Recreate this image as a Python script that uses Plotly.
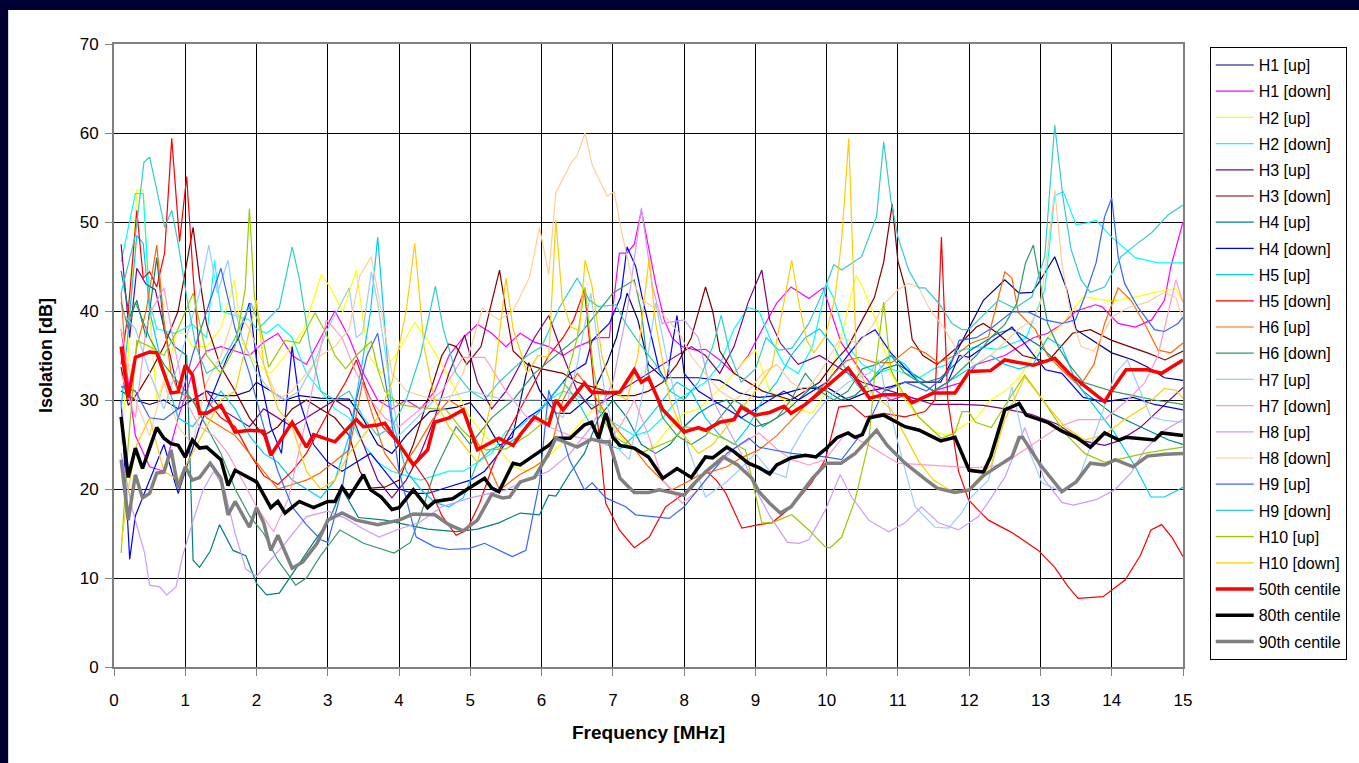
import plotly.graph_objects as go

# (frequency MHz, isolation dB)
H1_UP = [(0.1,31),(0.3,30),(0.5,29.5),(0.7,30),(0.9,29),(1.1,30),(1.3,31),(1.5,30.5),(1.7,30.5),(1.9,31),(2.0,32),(2.2,31),(2.4,30),(2.6,30.5),(2.89,30.2),(3.3,30.1),(3.5,27.8),(3.7,25),(3.9,24),(4.1,26),(4.43,28.7),(4.81,29.2),(5.0,29.7),(5.22,27.5),(5.41,24.9),(5.59,25.8),(5.82,34.2),(5.97,31.1),(6.2,28.5),(6.4,28.5),(6.7,30.5),(6.92,34.2),(7.05,37),(7.2,42),(7.35,39),(7.5,34),(7.7,32.5),(7.9,32.5),(8.2,32.5),(8.5,32.2),(8.77,30.8),(9.05,30.3),(9.3,30.5),(9.66,31.3),(10.03,31.3),(10.3,30),(10.6,31),(10.9,31.5),(11.1,32),(11.4,32),(11.6,32),(11.86,36),(12.2,41.2),(12.5,43.5),(12.7,42),(12.88,42.1),(12.97,43.1),(13.2,46.1),(13.37,42.4),(13.5,37.9),(14.0,35.3),(14.3,34.5),(14.5,33.7),(14.74,32.5),(15.0,32.2)]
H1_DOWN = [(0.1,38),(0.3,26),(0.5,22.5),(0.7,22),(0.9,28),(1.1,33),(1.3,35.5),(1.5,36),(1.7,35.5),(1.9,35),(2.1,36.5),(2.3,37.5),(2.5,35),(2.7,34),(2.9,37),(3.1,40),(3.3,37),(3.5,33),(3.7,30),(3.9,29),(4.1,30),(4.3,29),(4.5,31),(4.7,35),(4.9,37),(5.1,38.5),(5.3,37.5),(5.5,36),(5.7,37.5),(5.9,36.5),(6.1,36),(6.3,35),(6.5,36),(6.8,37),(6.95,37),(7.09,46.5),(7.2,46.5),(7.3,47.5),(7.4,51.3),(7.6,43.1),(7.72,39),(7.83,37),(7.97,36),(8.16,35.6),(8.3,35.7),(8.5,34.5),(8.7,33),(8.9,35),(9.1,38),(9.3,40.9),(9.5,42.7),(9.75,41.4),(9.95,42.6),(10.2,36.5),(10.5,33),(10.7,31),(10.9,30),(11.1,30.5),(11.3,30),(11.5,31),(11.7,31.5),(11.9,32),(12.1,34),(12.3,34.5),(12.5,35),(12.7,36),(12.9,37),(13.1,37.5),(13.3,38.5),(13.5,40),(13.77,40.7),(13.86,40.5),(14.09,38.6),(14.33,38.2),(14.56,39),(14.74,41.2),(14.83,45),(15.0,50)]
H2_UP = [(0.1,25),(0.2,35),(0.32,53.6),(0.41,53.6),(0.5,40),(0.6,30),(0.75,33),(0.87,37.5),(1.0,37.5),(1.1,36),(1.3,36),(1.5,38),(1.69,43.5),(1.8,36.4),(2.0,34),(2.2,33),(2.4,35),(2.66,37.9),(2.91,44.1),(3.03,42.7),(3.21,39.9),(3.4,44.6),(3.56,35.2),(3.75,33),(3.95,35),(4.22,38.7),(4.38,37),(4.6,34),(4.8,31),(5.0,28),(5.2,26),(5.4,24.5),(5.6,22.5),(5.8,22),(6.0,23),(6.2,24.5),(6.4,26),(6.6,28),(6.8,29.5),(7.0,27),(7.2,25),(7.4,24),(7.6,25),(7.8,27),(8.0,28.5),(8.2,29),(8.4,30.5),(8.6,32),(8.8,34),(9.0,35.6),(9.2,31),(9.4,30),(9.6,29),(9.8,28.5),(10.0,31),(10.2,37),(10.41,44.0),(10.5,42.8),(10.7,38.8),(10.9,33),(11.1,30),(11.3,28),(11.5,26.5),(11.7,26),(11.9,27),(12.1,28),(12.3,30),(12.5,31),(12.7,32.5),(12.9,35),(13.1,37),(13.3,38.5),(13.6,41.6),(14.0,41.1),(14.3,41.5),(14.6,42.1),(14.9,42.5),(15.0,41)]
H2_DOWN = [(0.1,45.5),(0.3,53.2),(0.41,53.2),(0.5,41),(0.6,38),(0.85,37.5),(1.1,38.5),(1.3,37),(1.41,45.7),(1.5,40),(1.7,39.5),(1.9,39),(2.0,38),(2.14,37.5),(2.3,38.5),(2.5,37),(2.7,33),(2.9,31),(3.1,29),(3.3,28),(3.5,25),(3.7,23),(3.9,22),(4.1,21.5),(4.3,21),(4.5,21.5),(4.7,22),(4.9,22),(5.1,23),(5.3,24),(5.5,26.5),(5.7,27),(5.9,28.5),(6.1,30),(6.3,31),(6.5,30.5),(6.7,29.5),(6.9,28),(7.1,27),(7.3,26),(7.5,26.5),(7.7,28),(7.9,30),(8.1,31),(8.3,32),(8.5,34),(8.7,38),(8.9,40.4),(9.05,40),(9.2,37),(9.4,34),(9.6,33),(9.8,36),(10.0,43),(10.1,41.4),(10.3,36),(10.5,34),(10.7,33),(10.9,33.5),(11.1,33),(11.3,32.5),(11.5,33.5),(11.7,34),(11.85,35.5),(12.1,36),(12.4,35.7),(12.8,37),(13.06,42.4),(13.2,53),(13.32,53.4),(13.5,49.7),(13.66,49.9),(13.78,50.2),(14.0,48.3),(14.33,46),(14.65,45.4),(15.0,45.4)]
H3_UP = [(0.1,47.5),(0.22,37),(0.32,44.8),(0.45,43),(0.58,42.4),(0.7,38),(0.9,31),(1.1,30),(1.3,31),(1.5,29),(1.7,28),(1.9,27),(2.1,29),(2.3,28),(2.5,27),(2.7,28),(2.9,29),(3.1,30),(3.3,29),(3.5,25),(3.7,21),(3.9,19),(4.1,21),(4.3,24),(4.5,28),(4.7,33),(4.92,37.3),(5.1,32),(5.3,29),(5.5,31),(5.7,34),(5.9,37),(6.1,39.5),(6.3,35),(6.5,31),(6.7,29),(6.9,30),(7.1,31),(7.3,32),(7.5,33),(7.7,34),(7.9,35),(8.1,36),(8.3,35),(8.5,33),(8.7,36),(8.9,41),(9.09,44.6),(9.2,39),(9.35,36.4),(9.6,34),(9.9,35),(10.1,34),(10.3,33),(10.5,32),(10.7,31.5),(10.9,31),(11.1,30.5),(11.3,30),(11.5,29.5),(11.9,29.5),(12.2,29.4),(12.5,29),(12.87,28.4),(13.23,27.3),(13.6,25.4),(13.9,24.9),(14.1,25.4),(14.4,26.9),(14.7,29.1),(15.0,31.4)]
H3_DOWN = [(0.1,33.7),(0.2,29.4),(0.35,31),(0.5,33),(0.7,36),(0.9,40),(1.11,49.4),(1.2,43.7),(1.3,38.5),(1.5,33.7),(1.7,31),(1.9,28),(2.1,26),(2.3,27),(2.5,29),(2.7,30),(2.9,29),(3.1,28),(3.3,26),(3.45,22),(3.6,20.1),(3.8,20.2),(4.0,21),(4.2,25),(4.4,30),(4.6,35),(4.7,36.3),(4.8,36),(4.95,34),(5.15,36),(5.3,41),(5.41,44.6),(5.5,40),(5.6,35.5),(5.8,34),(6.0,33.5),(6.3,33),(6.5,32),(6.7,31.5),(6.9,31),(7.1,30.5),(7.3,30.5),(7.5,31),(7.7,32),(7.9,34),(8.1,37),(8.3,42.7),(8.4,40),(8.5,35.5),(8.7,33),(8.9,32),(9.1,31),(9.3,30.5),(9.5,30),(9.7,31),(9.9,32),(10.1,34.2),(10.3,36),(10.5,39),(10.67,41.5),(10.8,45.5),(10.92,52),(11.0,45.6),(11.1,42.7),(11.2,36.8),(11.35,35),(11.55,34),(11.8,35.7),(12.1,38.2),(12.2,38.6),(12.4,37.5),(12.75,35),(13.1,34.3),(13.45,37.5),(13.7,37.9),(14.0,36.7),(14.5,35.3),(14.75,34.5),(15.0,35.5)]
H4_UP = [(0.1,44.5),(0.22,39.3),(0.32,41.2),(0.45,37),(0.6,46),(0.7,38),(0.85,36),(1.02,35),(1.11,12),(1.2,11.2),(1.35,13),(1.48,16),(1.67,13.1),(1.85,12.5),(2.0,9.4),(2.14,8.1),(2.32,8.3),(2.6,11.7),(2.8,14),(3.02,16.5),(3.2,20),(3.43,16.8),(3.8,16.5),(4.1,16),(4.4,15.5),(4.8,15.2),(5.1,15.5),(5.4,16.2),(5.7,17.3),(5.97,17.1),(6.1,19.3),(6.2,19.2),(6.4,21.8),(6.6,24),(6.8,28),(7.0,30),(7.2,28),(7.4,25),(7.6,24),(7.8,25),(8.0,27),(8.2,28.5),(8.4,29.5),(8.6,30),(8.8,28),(9.0,27),(9.2,27.5),(9.4,28.5),(9.6,30),(9.8,31.5),(10.0,31),(10.2,30),(10.4,30.5),(10.6,32),(10.8,33.5),(11.0,34),(11.2,33),(11.4,32),(11.6,32.5),(11.8,34),(12.0,35.5),(12.2,36.5),(12.4,37.5),(12.6,38),(12.8,37),(13.0,36),(13.2,34.5),(13.4,33),(13.6,31),(14.0,28.5),(14.4,27),(14.8,25.5),(15.0,25)]
H4_DOWN = [(0.1,30),(0.22,12.1),(0.3,17),(0.42,19.5),(0.55,22),(0.7,25),(0.9,19.5),(1.0,22),(1.2,27),(1.4,31),(1.6,35),(1.75,37),(1.9,40.9),(2.0,34.5),(2.2,27),(2.35,24),(2.5,36),(2.6,30),(2.8,25),(3.0,23),(3.2,22),(3.4,23),(3.6,24),(3.8,22),(4.0,20),(4.2,19.5),(4.4,19.5),(4.6,20),(4.8,20.5),(5.0,21),(5.2,22),(5.4,24),(5.6,26.5),(5.8,28),(6.0,29),(6.2,31),(6.4,33),(6.62,34.1),(6.71,36.7),(6.95,38.6),(7.11,41.6),(7.2,47.2),(7.32,45),(7.41,41.6),(7.55,36.7),(7.65,33.4),(7.75,32),(7.9,39.5),(8.0,33),(8.2,31),(8.4,30),(8.6,29),(8.8,28),(9.0,29),(9.2,30),(9.4,31),(9.6,30),(9.8,31),(10.0,32),(10.2,34),(10.49,37),(10.68,37.9),(10.9,35.3),(11.1,33.6),(11.3,32),(11.5,31),(11.7,32),(11.86,35),(12.0,34.8),(12.3,36.5),(12.6,38.2),(12.9,35.1),(13.07,33.4),(13.3,33),(13.6,30.3),(13.9,29.8),(14.3,30.3),(14.6,29.5),(15.0,28.9)]
H5_UP = [(0.1,29),(0.32,48.5),(0.41,47.6),(0.5,40),(0.7,33),(0.9,28),(1.1,27),(1.3,29),(1.5,31),(1.7,29),(1.9,26),(2.1,24),(2.3,23),(2.5,21),(2.7,20),(2.9,19),(3.1,21),(3.3,26),(3.5,35),(3.6,40),(3.7,48.3),(3.8,38),(3.9,28),(4.1,22),(4.3,20),(4.5,18.5),(4.7,18),(4.9,19),(5.1,23),(5.3,24.5),(5.5,25),(5.7,26),(5.9,28),(6.1,30),(6.3,32),(6.5,30),(6.7,27),(6.9,25),(7.1,24.5),(7.3,26),(7.5,28),(7.7,30),(7.9,32),(8.1,31),(8.3,28),(8.5,26),(8.7,25),(8.9,27),(9.1,30),(9.3,32),(9.5,35),(9.7,37),(9.9,38),(10.1,36),(10.3,33),(10.5,31),(10.7,33),(10.9,35),(11.1,34),(11.3,32),(11.5,31),(11.7,32),(11.9,33),(12.1,34),(12.3,35),(12.5,34),(12.7,33.5),(12.9,34),(13.1,37),(13.3,36),(13.5,32),(13.66,30.3),(14.04,26.3),(14.33,22.5),(14.55,19.1),(14.74,19.1),(15.0,20.2)]
H5_DOWN = [(0.1,34),(0.2,40),(0.32,51.3),(0.41,43.7),(0.5,44.4),(0.6,42.7),(0.71,46.5),(0.81,59.4),(0.92,47.8),(1.02,55.1),(1.11,44),(1.2,35),(1.3,30),(1.5,28),(1.7,27),(1.9,24),(2.1,21.5),(2.3,20.5),(2.5,22),(2.7,24),(2.9,27),(3.1,30),(3.25,32),(3.4,34.5),(3.55,31),(3.77,27),(4.0,25),(4.2,23),(4.4,20.7),(4.6,17),(4.8,14.8),(4.95,15.4),(5.13,18.4),(5.31,22.5),(5.5,26),(5.7,29),(5.9,32),(6.1,35),(6.3,37),(6.45,39),(6.6,42.4),(6.75,30),(6.9,18.4),(7.09,15.4),(7.3,13.4),(7.51,14.6),(7.74,18),(7.93,19.1),(8.1,20),(8.3,22.1),(8.45,21),(8.58,19.6),(8.81,15.6),(9.05,16),(9.23,16.2),(9.51,18),(9.79,20.7),(9.98,23.3),(10.17,29.2),(10.35,29.4),(10.54,28.1),(10.8,28.5),(11.1,28.1),(11.38,28.7),(11.52,30),(11.61,48.3),(11.7,30),(11.85,22),(11.99,18.8),(12.13,17.6),(12.27,16.5),(12.6,15.1),(12.97,13.1),(13.2,11.2),(13.39,9.0),(13.53,7.7),(13.88,7.9),(14.19,9.8),(14.4,12.5),(14.55,15.4),(14.7,16),(14.85,14.5),(15.0,12.4)]
H6_UP = [(0.1,42),(0.2,30),(0.32,36),(0.45,40),(0.6,47.4),(0.7,39),(0.8,33),(0.9,31),(1.1,30),(1.3,28),(1.5,27),(1.7,26),(1.9,24),(2.1,22),(2.3,20),(2.5,20.5),(2.7,21),(2.89,21.8),(3.12,23.3),(3.3,24.4),(3.49,32),(3.6,29),(3.8,24),(4.0,21.8),(4.24,24.7),(4.47,27.8),(4.7,30),(4.9,29),(5.05,26),(5.22,23.3),(5.41,19.9),(5.69,21.6),(5.9,22.5),(6.1,23.6),(6.3,30),(6.5,33),(6.7,31),(6.9,28.5),(7.09,26.4),(7.3,24.5),(7.5,22.5),(7.65,21.3),(7.83,19.9),(8.02,20.7),(8.2,21.5),(8.4,22),(8.6,22.5),(8.8,23.5),(9.05,24.4),(9.3,26),(9.6,28.5),(9.98,31.9),(10.27,34.4),(10.45,34.8),(10.68,34.2),(10.91,34.2),(11.19,36),(11.38,35.3),(11.57,34.2),(11.8,35),(12.03,36.4),(12.27,37.1),(12.5,44.4),(12.6,43.7),(12.69,39.8),(12.93,37.9),(13.1,35),(13.3,33.4),(13.55,31.5),(13.75,34),(13.9,38.6),(14.09,42.6),(14.27,41.2),(14.46,38.6),(14.65,35.6),(14.83,35.3),(15.0,36.4)]
H6_DOWN = [(0.1,41),(0.2,38),(0.3,41),(0.5,37),(0.7,34),(0.9,32),(1.1,30),(1.3,27),(1.5,24),(1.7,20),(1.9,17),(2.1,15),(2.3,12),(2.55,9.2),(2.7,10),(2.89,12.4),(3.17,15.4),(3.5,13.9),(3.93,12.8),(4.16,14),(4.3,17),(4.5,22),(4.8,27),(5.0,25),(5.3,28),(5.6,30),(5.9,33),(6.2,35),(6.5,37),(6.8,40),(7.0,42),(7.3,43.5),(7.4,40),(7.5,33),(7.7,28),(7.9,26),(8.1,25),(8.3,26),(8.5,28),(8.7,30),(8.9,29),(9.1,27),(9.3,28),(9.5,30),(9.7,33),(9.9,31),(10.1,30),(10.3,31),(10.5,33.5),(10.7,34),(10.9,35),(11.1,33),(11.3,32),(11.5,31),(11.7,32),(11.9,33.5),(12.1,35),(12.3,37),(12.5,38.5),(12.67,40.9),(12.79,45.4),(12.9,47.4),(13.0,43.1),(13.1,38.6),(13.25,36),(13.4,34),(13.6,32),(13.8,31.5),(14.0,31),(14.3,30.5),(14.6,30),(15.0,29.5)]
H7_UP = [(0.1,40),(0.3,38),(0.5,33),(0.7,29),(0.9,34),(1.05,38),(1.2,42),(1.33,47.4),(1.45,42),(1.6,45.7),(1.7,40),(1.8,37),(2.0,33),(2.2,31),(2.4,30),(2.6,31),(2.8,34),(3.0,38),(3.3,42.6),(3.4,37),(3.49,37.6),(3.61,44.4),(3.7,40.9),(3.85,33),(4.0,26),(4.5,30),(5.0,31),(5.5,30),(6.0,30),(6.3,28),(6.5,34),(6.69,42),(6.9,30),(7.09,24.4),(7.23,23.3),(7.4,30),(7.6,40.9),(7.8,33),(8.0,26),(8.3,19.1),(8.58,20.7),(8.77,22.1),(9.0,24),(9.2,22),(9.43,21.3),(9.51,24.4),(9.7,27),(10.0,30),(10.3,32),(10.6,33),(10.73,34.5),(10.85,30),(11.0,25.2),(11.24,18),(11.52,15.7),(11.71,15.6),(11.89,17.3),(12.03,19.1),(12.27,21),(12.45,27),(12.6,31.5),(12.74,26.3),(13.02,20.7),(13.3,19.7),(13.53,21),(13.8,27),(14.05,33),(14.22,34.5),(14.4,31),(14.55,28.1),(14.74,27.7),(15.0,27.5)]
H7_DOWN = [(0.1,33),(0.3,28),(0.45,38),(0.55,40.4),(0.7,42.6),(0.85,36),(1.0,30),(1.2,27),(1.4,26),(1.6,24),(1.8,21),(2.0,18),(2.24,15.2),(2.45,19),(2.7,28),(2.98,39),(3.2,37),(3.4,33),(3.6,30),(3.8,28),(4.0,27),(4.3,29),(4.6,31),(4.9,34.8),(5.2,34.8),(5.5,31),(5.8,28),(6.1,27),(6.4,26),(6.7,25.5),(6.9,25),(7.1,27),(7.3,30),(7.5,26),(7.7,21),(7.97,18.4),(8.16,19.6),(8.4,22),(8.7,24.5),(9.05,26.3),(9.3,24.5),(9.51,23.3),(9.75,22.7),(9.98,23.3),(10.27,26.3),(10.59,24.9),(11.0,22.9),(11.38,22.7),(11.76,22.5),(12.03,22.4),(12.3,22.5),(12.5,22.9),(12.83,24.7),(13.26,27),(13.53,27.8),(13.9,27.8),(14.22,30),(14.46,31.9),(14.65,35),(14.8,40),(14.9,43.5),(15.0,41)]
H8_UP = [(0.1,24),(0.26,17.6),(0.43,12.8),(0.5,9.2),(0.64,9.0),(0.74,8.1),(0.87,9.0),(0.96,12.4),(1.1,16.2),(1.25,19.9),(1.4,22),(1.55,20),(1.7,15),(1.85,11),(2.0,10.2),(2.2,12),(2.4,13.9),(2.7,16.9),(3.0,17.5),(3.25,16.7),(3.5,15.5),(3.72,14.6),(4.0,15.5),(4.28,16.2),(4.6,18),(5.0,19),(5.5,19.9),(5.8,21),(6.1,22),(6.4,24),(6.7,27),(7.0,32),(7.2,40),(7.4,51.6),(7.55,43),(7.69,38.6),(8.0,39),(8.2,37),(8.4,30),(8.6,27),(8.8,24),(9.0,20),(9.2,17),(9.45,14),(9.61,13.9),(9.75,14.3),(9.98,17.6),(10.19,21.6),(10.35,19.1),(10.59,16.5),(10.87,15.2),(11.1,16.2),(11.33,18),(11.57,16.2),(11.85,15.4),(12.13,16.9),(12.5,21.3),(12.78,26.9),(13.06,21),(13.3,18.5),(13.46,18.2),(13.78,18.8),(14.04,19.9),(14.27,21.8),(14.46,24.4),(14.74,26.6),(15.0,27.8)]
H8_DOWN = [(0.1,38),(0.3,30),(0.5,26),(0.7,32),(0.9,27),(1.1,25),(1.3,32),(1.5,35),(1.7,40),(1.9,38),(2.1,34),(2.3,30),(2.5,31),(2.7,33),(2.9,35),(3.1,36),(3.3,38),(3.45,44),(3.61,46.1),(3.75,40),(3.9,33),(4.1,31),(4.3,30.5),(4.5,30),(4.7,30),(4.9,33),(5.17,40.3),(5.4,39),(5.6,40),(5.83,43.8),(5.97,49.4),(6.1,44.1),(6.2,53.3),(6.29,54.7),(6.41,56.6),(6.5,57.5),(6.61,60.0),(6.71,56.4),(6.92,52.9),(7.02,53.4),(7.11,49.4),(7.27,43.5),(7.41,41.2),(7.65,40.1),(7.93,37.5),(8.11,34.8),(8.3,33),(8.5,31),(8.7,30),(8.9,31),(9.1,33),(9.3,34),(9.5,32),(9.7,31),(9.9,33),(10.2,37),(10.45,36.4),(10.63,38.2),(10.82,40.9),(11.0,42.4),(11.15,43.1),(11.29,42.7),(11.43,40.4),(11.66,37.9),(11.85,35.3),(12.08,34),(12.3,35),(12.5,36.5),(12.7,38),(12.9,39),(13.0,40.9),(13.1,46.9),(13.2,53.6),(13.3,45.4),(13.43,39.3),(13.57,36),(13.75,35.5),(14.0,39.3),(14.23,40.4),(14.5,41),(14.74,42.1),(14.9,41.5),(15.0,39)]
H9_UP = [(0.1,31.5),(0.3,31),(0.5,28),(0.7,27.8),(0.9,29),(1.1,35),(1.3,40),(1.5,44.8),(1.7,38),(1.9,33),(2.1,27),(2.3,22),(2.5,18),(2.7,16),(2.9,14.3),(3.0,14),(3.2,20),(3.4,30),(3.55,35),(3.7,37.5),(3.85,30),(4.0,22),(4.24,14.6),(4.5,13.5),(4.7,13.2),(4.98,13.3),(5.2,13.9),(5.41,13.1),(5.59,12.4),(5.78,13.1),(5.97,20.7),(6.1,31.1),(6.25,27),(6.39,23.3),(6.6,19.9),(6.71,20.7),(6.9,19),(7.18,18),(7.32,17.1),(7.79,16.7),(8.0,18),(8.3,21),(8.6,24),(8.91,25.7),(9.05,24.7),(9.51,24),(9.98,23.6),(10.21,23.3),(10.56,27),(10.8,31),(11.1,32),(11.4,31),(11.7,33),(11.86,36.7),(12.1,37),(12.3,38),(12.6,39.9),(12.83,39.9),(13.06,39),(13.3,38.6),(13.49,39),(13.62,41.6),(13.78,45.4),(13.9,50.6),(14.0,52.7),(14.09,46.1),(14.18,43.1),(14.37,40.4),(14.6,37.9),(14.74,37.7),(14.93,38.6),(15.0,39.3)]
H9_DOWN = [(0.1,42),(0.3,48.5),(0.42,56.7),(0.5,57.3),(0.58,54.4),(0.71,49.4),(0.81,51.3),(0.9,47.6),(1.02,41.6),(1.15,36),(1.3,33),(1.5,34),(1.7,37),(1.92,40.9),(2.05,38.2),(2.32,40.4),(2.5,47.2),(2.6,43.7),(2.75,36),(2.9,31),(3.1,30),(3.3,31),(3.5,28),(3.7,26),(3.9,27),(4.1,30),(4.3,35),(4.51,42.8),(4.62,38),(4.8,33),(5.0,31),(5.2,30),(5.4,32),(5.6,33.5),(5.8,35),(6.0,36),(6.25,40.4),(6.5,43.7),(6.67,41.2),(6.8,40.5),(7.04,40.7),(7.18,38.6),(7.37,36.4),(7.6,34),(7.8,31),(8.0,30),(8.2,32),(8.4,36),(8.52,39.5),(8.65,35),(8.8,32),(9.0,33.5),(9.15,37),(9.33,35.6),(9.51,35.8),(9.75,38.6),(10.0,43.1),(10.1,45.2),(10.21,44.6),(10.49,46.1),(10.7,50.6),(10.8,59),(10.9,52.5),(11.0,48.3),(11.15,44.6),(11.29,42.6),(11.38,42.6),(11.57,40.9),(11.76,38.6),(11.9,37.9),(11.99,37.9),(12.27,40.1),(12.41,41.2),(12.64,40.3),(12.88,41.6),(13.06,46.1),(13.2,60.9),(13.32,52.5),(13.43,46.9),(13.57,43.5),(13.7,42.1),(13.9,42.7),(14.13,46.1),(14.33,47.4),(14.56,48.8),(14.79,50.8),(15.0,51.9)]
H10_UP = [(0.1,12.8),(0.2,25),(0.32,36.7),(0.5,36),(0.7,35),(0.9,38),(1.11,42),(1.3,35),(1.5,33),(1.7,36),(1.84,42.4),(1.9,51.5),(1.97,41.6),(2.05,38.6),(2.17,33.7),(2.4,36.7),(2.6,36.4),(2.82,39.8),(2.95,37.9),(3.1,35),(3.25,33.5),(3.4,35),(3.61,36.6),(3.7,33.5),(3.8,31),(4.0,29.5),(4.24,29.2),(4.66,28.9),(4.89,26.6),(5.08,25.2),(5.22,24.4),(5.5,24.5),(5.8,26),(6.1,28),(6.3,31),(6.5,37),(6.61,42.7),(6.72,34),(6.85,28),(7.0,26),(7.2,25),(7.37,24),(7.6,24.7),(7.83,25.5),(8.02,27),(8.3,26.5),(8.6,25.5),(8.86,24.4),(9.09,16.2),(9.23,16.2),(9.51,17.1),(9.75,15.4),(9.98,13.5),(10.05,13.4),(10.21,14.6),(10.4,18.8),(10.59,25.2),(10.68,33.4),(10.8,41),(10.9,33.4),(11.05,31.1),(11.29,28.1),(11.61,25.7),(11.8,26.3),(11.9,28.7),(11.99,28.7),(12.09,27.5),(12.31,26.9),(12.55,30),(12.78,32.8),(13.06,29.7),(13.34,26.3),(13.62,24),(13.9,23),(14.18,23.5),(14.46,24),(14.74,24.4),(15.0,24.7)]
H10_DOWN = [(0.1,13.7),(0.2,20),(0.32,25),(0.5,28),(0.7,22),(0.9,21),(1.1,24),(1.3,27),(1.5,30),(1.7,31),(1.85,36),(2.0,41.2),(2.1,34),(2.3,29),(2.5,27),(2.7,22),(2.9,20),(3.1,21),(3.3,24),(3.5,26),(3.7,28),(3.9,32),(4.1,40),(4.22,47.6),(4.35,36),(4.5,30),(4.7,27),(4.9,25),(5.1,23),(5.3,30),(5.5,43.7),(5.6,38),(5.8,33),(5.95,35),(6.1,34.8),(6.2,50.2),(6.29,41.2),(6.41,38.2),(6.53,37.8),(6.61,45.7),(6.71,42.7),(6.85,34.8),(7.0,31),(7.2,30),(7.35,35),(7.51,46),(7.6,38.6),(7.8,30),(8.0,26),(8.2,24),(8.4,25),(8.6,27),(8.8,29),(9.0,31),(9.23,33.7),(9.51,45.7),(9.61,40.9),(9.72,36.7),(9.82,35.3),(9.98,37.1),(10.12,41.6),(10.21,48),(10.31,59.4),(10.38,43.8),(10.42,33.7),(10.6,31),(10.9,29),(11.1,26),(11.3,23),(11.5,21),(11.7,20),(11.9,19.6),(12.0,20),(12.13,21.2),(12.31,22.7),(12.5,27.8),(12.78,32.6),(13.06,29.7),(13.34,27),(13.62,25.5),(13.9,26.1),(14.18,27.8),(14.46,29.2),(14.74,31.3),(14.9,31.1),(15.0,30.2)]
C50 = [(0.1,36),(0.2,30.3),(0.3,34.8),(0.5,35.4),(0.6,35.3),(0.8,30.8),(0.9,30.9),(1.0,33.9),(1.1,32.8),(1.2,28.5),(1.3,28.5),(1.5,29.4),(1.7,26.4),(1.9,26.6),(2.1,26.5),(2.2,23.8),(2.5,27.5),(2.7,24.7),(2.8,26.1),(3.0,25.5),(3.1,25.3),(3.4,27.8),(3.5,27.0),(3.7,27.2),(3.8,27.4),(4.2,22.7),(4.4,24.4),(4.5,27.5),(4.7,28.0),(4.9,28.9),(5.1,24.4),(5.4,25.7),(5.6,24.9),(5.7,26.1),(5.9,28.1),(6.1,27.2),(6.2,30.0),(6.3,28.9),(6.6,31.9),(6.7,30.9),(6.9,30.8),(7.1,30.9),(7.3,33.4),(7.4,32.0),(7.5,32.5),(7.7,28.9),(8.0,26.4),(8.2,26.9),(8.3,26.6),(8.5,27.5),(8.7,27.8),(8.8,29.2),(9.0,28.3),(9.2,28.6),(9.4,29.3),(9.5,28.5),(9.7,29.5),(9.85,30.5),(10.0,31.5),(10.3,33.6),(10.4,32.5),(10.6,30.2),(10.8,30.6),(11.1,30.6),(11.2,29.7),(11.5,30.8),(11.8,30.8),(12.0,33.2),(12.3,33.3),(12.5,34.5),(12.7,34.2),(12.9,33.9),(13.2,34.7),(13.4,33.0),(13.6,31.7),(13.9,29.8),(14.0,31.1),(14.2,33.4),(14.5,33.4),(14.7,33.0),(15.0,34.5)]
C80 = [(0.1,28.1),(0.2,21.3),(0.3,24.6),(0.4,22.3),(0.6,26.9),(0.7,25.7),(0.8,25.1),(0.9,24.9),(1.0,23.6),(1.1,25.5),(1.2,24.6),(1.3,24.7),(1.5,23.3),(1.6,20.4),(1.7,22.1),(1.9,21.3),(2.0,20.8),(2.2,17.9),(2.3,18.6),(2.4,17.3),(2.6,18.6),(2.8,17.9),(3.0,18.6),(3.1,18.6),(3.2,20.2),(3.3,19.1),(3.5,21.6),(3.6,19.9),(3.75,19.1),(3.9,17.7),(4.0,17.9),(4.2,19.9),(4.4,17.9),(4.5,18.6),(4.75,18.9),(5.0,20.2),(5.2,21.2),(5.3,20.1),(5.4,19.7),(5.6,22.9),(5.7,22.7),(5.9,23.8),(6.1,24.9),(6.2,25.7),(6.4,25.7),(6.6,27.2),(6.7,27.5),(6.8,25.7),(6.9,28.5),(7.0,25.8),(7.1,24.9),(7.3,24.6),(7.5,23.6),(7.7,21.2),(7.9,22.3),(8.1,21.3),(8.3,23.6),(8.4,23.5),(8.6,24.7),(8.7,24.2),(8.9,22.9),(9.05,22.4),(9.2,21.7),(9.3,22.7),(9.5,23.5),(9.7,23.8),(9.85,23.6),(10.0,24.6),(10.15,25.8),(10.3,26.3),(10.4,25.8),(10.5,26.1),(10.6,28.0),(10.8,28.3),(11.1,27.0),(11.3,26.6),(11.6,25.4),(11.8,25.8),(12.0,22.1),(12.2,21.9),(12.3,23.6),(12.5,28.9),(12.7,29.6),(12.8,28.3),(13.1,27.5),(13.3,26.5),(13.5,25.8),(13.7,24.7),(13.9,26.3),(14.1,25.5),(14.2,25.8),(14.6,25.5),(14.7,26.3),(15.0,26.0)]
C90 = [(0.1,23.3),(0.2,16.5),(0.3,21.6),(0.4,19.0),(0.5,19.5),(0.6,21.8),(0.7,21.9),(0.8,24.4),(0.9,20.1),(1.0,22.5),(1.1,21.0),(1.2,21.3),(1.35,22.9),(1.5,21.2),(1.6,17.1),(1.7,18.6),(1.9,15.7),(2.0,17.9),(2.1,16.2),(2.2,13.1),(2.3,14.8),(2.5,11.1),(2.65,11.8),(2.85,13.9),(3.0,16.5),(3.2,17.3),(3.4,16.5),(3.7,16.0),(4.0,16.5),(4.2,17.2),(4.5,17.1),(4.7,16.0),(4.9,15.3),(5.1,16.5),(5.3,19.4),(5.45,19.0),(5.55,19.1),(5.7,20.8),(5.9,21.3),(6.1,24.0),(6.2,25.7),(6.5,24.7),(6.7,25.6),(6.85,25.3),(6.95,25.3),(7.1,21.2),(7.3,19.6),(7.5,19.6),(7.65,19.9),(7.85,19.6),(8.0,19.3),(8.1,20.3),(8.3,21.9),(8.55,23.6),(8.75,22.7),(8.95,21.2),(9.05,19.7),(9.2,18.4),(9.35,17.3),(9.5,18.0),(9.8,21.2),(10.0,22.9),(10.2,22.9),(10.4,24.0),(10.7,26.6),(10.85,24.9),(11.1,22.9),(11.4,21.0),(11.55,20.1),(11.8,19.6),(12.0,19.9),(12.2,21.5),(12.6,23.6),(12.7,25.8),(12.75,25.8),(13.0,22.7),(13.3,19.7),(13.5,20.8),(13.7,22.9),(13.9,22.7),(14.05,23.3),(14.3,22.5),(14.5,23.7),(14.75,23.9),(15.0,24.0)]

SERIES = [
    ("H1 [up]", H1_UP, "#000080", 1.2),
    ("H1 [down]", H1_DOWN, "#FF00FF", 1.2),
    ("H2 [up]", H2_UP, "#FFFF00", 1.2),
    ("H2 [down]", H2_DOWN, "#00FFFF", 1.2),
    ("H3 [up]", H3_UP, "#800080", 1.2),
    ("H3 [down]", H3_DOWN, "#800000", 1.2),
    ("H4 [up]", H4_UP, "#008080", 1.2),
    ("H4 [down]", H4_DOWN, "#0000FF", 1.2),
    ("H5 [up]", H5_UP, "#00CCFF", 1.2),
    ("H5 [down]", H5_DOWN, "#FF0000", 1.2),
    ("H6 [up]", H6_UP, "#FF6600", 1.2),
    ("H6 [down]", H6_DOWN, "#339966", 1.2),
    ("H7 [up]", H7_UP, "#99CCFF", 1.2),
    ("H7 [down]", H7_DOWN, "#FF99CC", 1.2),
    ("H8 [up]", H8_UP, "#CC99FF", 1.2),
    ("H8 [down]", H8_DOWN, "#FFCC99", 1.2),
    ("H9 [up]", H9_UP, "#3366FF", 1.2),
    ("H9 [down]", H9_DOWN, "#33CCCC", 1.2),
    ("H10 [up]", H10_UP, "#99CC00", 1.2),
    ("H10 [down]", H10_DOWN, "#FFCC00", 1.2),
    ("50th centile", C50, "#FF0000", 3.5),
    ("80th centile", C80, "#000000", 3.5),
    ("90th centile", C90, "#808080", 3.5),
]

FONT = "Liberation Sans, Arial, sans-serif"

fig = go.Figure()
for name, pts, color, width in SERIES:
    fig.add_trace(
        go.Scatter(
            x=[p[0] for p in pts],
            y=[p[1] for p in pts],
            mode="lines",
            name=name,
            legendgroup=name,
            line=dict(color=color, width=width),
        )
    )

# white chart area inside the dark slide frame
fig.add_shape(
    type="rect", xref="paper", yref="paper",
    x0=-0.099, x1=1.17, y0=-0.16, y1=1.0546,
    fillcolor="white", line_width=0, layer="below",
)

axis_common = dict(
    showline=True, linecolor="#808080", linewidth=2, mirror=True,
    showgrid=True, gridcolor="#000000", gridwidth=1,
    ticks="outside", ticklen=7, tickcolor="#808080", tickwidth=1,
    tickfont=dict(family=FONT, size=17, color="#000000"),
    zeroline=False,
)

fig.update_layout(
    width=1359, height=763,
    paper_bgcolor="#000033", plot_bgcolor="white",
    margin=dict(l=114, r=174, t=44, b=96),
    font=dict(family=FONT, color="#000000"),
    xaxis=dict(range=[0, 15], dtick=1, tick0=0, ticklabelstandoff=10,
               title=dict(text="<b>Frequency [MHz]</b>", font=dict(size=19), standoff=16),
               **axis_common),
    yaxis=dict(range=[0, 70], dtick=10, tick0=0, ticklabelstandoff=3,
               title=dict(text="<b>Isolation [dB]</b>", font=dict(size=18), standoff=22),
               **axis_common),
    legend=dict(
        x=1.025, y=0.995, xanchor="left", yanchor="top",
        bgcolor="white", bordercolor="#000000", borderwidth=1,
        font=dict(family=FONT, size=16, color="#000000"),
        tracegroupgap=2.4, itemwidth=38,
    ),
    showlegend=True,
)

fig.write_html(
    "out.html",
    config={"displayModeBar": False},
    post_script="document.body.style.margin='0px';document.body.style.background='#000033';",
)
